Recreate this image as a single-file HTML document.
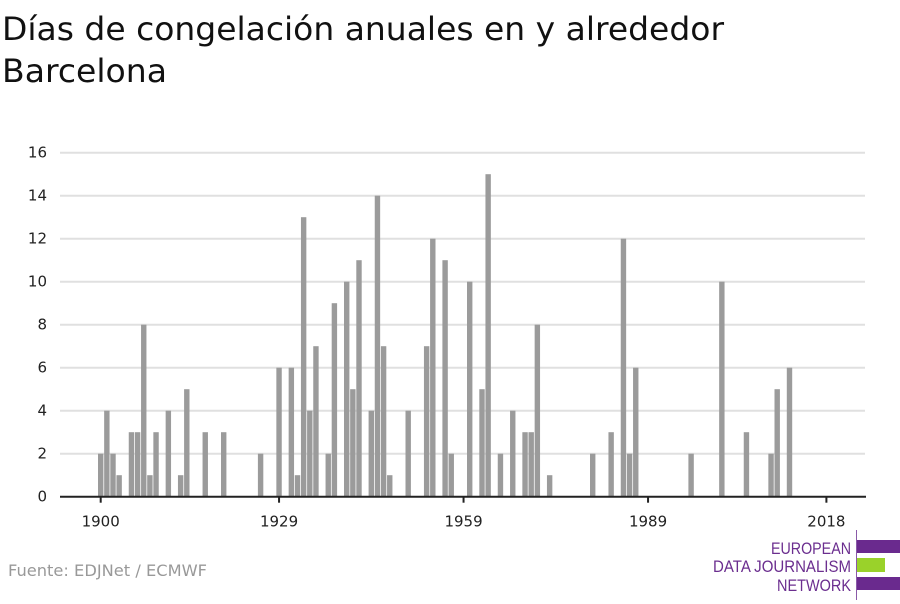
<!DOCTYPE html>
<html><head><meta charset="utf-8"><style>
body{margin:0;background:#fff;font-family:"DejaVu Sans","Liberation Sans",sans-serif;}
</style></head><body>
<svg width="900" height="600" viewBox="0 0 900 600" xmlns="http://www.w3.org/2000/svg">
<text x="2" y="40" font-size="32" fill="#111" textLength="722" lengthAdjust="spacingAndGlyphs" font-family="DejaVu Sans, Liberation Sans, sans-serif">Días de congelación anuales en y alrededor</text>
<text x="2" y="82" font-size="32" fill="#111" textLength="165" lengthAdjust="spacingAndGlyphs" font-family="DejaVu Sans, Liberation Sans, sans-serif">Barcelona</text>
<g id="grid"></g><g id="bars"></g><g id="axes"></g>
<text x="8" y="576" font-size="16" fill="#999" textLength="199" lengthAdjust="spacingAndGlyphs">Fuente: EDJNet / ECMWF</text>
<g font-family="Liberation Sans, sans-serif" font-size="17" fill="#6b2e8f" text-anchor="end">
<line x1="856.5" y1="530" x2="856.5" y2="600" stroke="#8a5aa8" stroke-width="1"/>
<rect x="857" y="540" width="43" height="13" fill="#6a2a8e"/>
<rect x="857" y="558" width="28" height="14" fill="#9ad22a"/>
<rect x="857" y="577" width="43" height="13" fill="#6a2a8e"/>
<text x="851" y="554" textLength="80" lengthAdjust="spacingAndGlyphs">EUROPEAN</text>
<text x="851" y="572" textLength="138" lengthAdjust="spacingAndGlyphs">DATA JOURNALISM</text>
<text x="851" y="591" textLength="74" lengthAdjust="spacingAndGlyphs">NETWORK</text>
</g>
</svg>
<script>
const years=[1900,1901,1902,1903,1905,1906,1907,1908,1909,1911,1913,1914,1917,1920,1926,1929,1931,1932,1933,1934,1935,1937,1938,1940,1941,1942,1944,1945,1946,1947,1950,1953,1954,1956,1957,1960,1962,1963,1965,1967,1969,1970,1971,1973,1980,1983,1985,1986,1987,1996,2001,2005,2009,2010,2012];
const values=[2,4,2,1,3,3,8,1,3,4,1,5,3,3,2,6,6,1,13,4,7,2,9,10,5,11,4,14,7,1,4,7,12,11,2,10,5,15,2,4,3,3,8,1,2,3,12,2,6,2,10,3,2,5,6];
const yTicks=[0,2,4,6,8,10,12,14,16];
const xTicks=[1900,1929,1959,1989,2018];
const NS="http://www.w3.org/2000/svg";
const X=yr=>100.7+(yr-1900)*6.15;
const Y=v=>496.7-v*21.5;
const bw=5.4;
function mk(t,a,p){const e=document.createElementNS(NS,t);for(const k in a)e.setAttribute(k,a[k]);p.appendChild(e);return e;}
const g=document.getElementById('grid'),b=document.getElementById('bars'),ax=document.getElementById('axes');
yTicks.forEach(v=>{
 if(v>0){const l=mk('line',{x1:60,x2:865,y1:Y(v),y2:Y(v),stroke:'#e0e0e0','stroke-width':2},g);
 
 }
 const t=mk('text',{x:47,y:Y(v)+5,'text-anchor':'end','font-size':15,fill:'#222'},ax);
 t.textContent=v;
 
 
});
years.forEach((yr,i)=>{
 const r=mk('rect',{x:X(yr)-bw/2,y:Y(values[i]),width:bw,height:Y(0)-Y(values[i]),fill:'#9b9b9b'},b);
 
 
});
const base=mk('line',{x1:60,x2:866,y1:Y(0),y2:Y(0),stroke:'#222','stroke-width':2},ax);


xTicks.forEach(yr=>{
 const l=mk('line',{x1:X(yr),x2:X(yr),y1:Y(0),y2:Y(0)+6,stroke:'#222','stroke-width':2},ax);
 
 
 const t=mk('text',{x:X(yr),y:Y(0)+30,'text-anchor':'middle','font-size':15,fill:'#222'},ax);
 t.textContent=yr;
 
 
});
</script>
</body></html>
